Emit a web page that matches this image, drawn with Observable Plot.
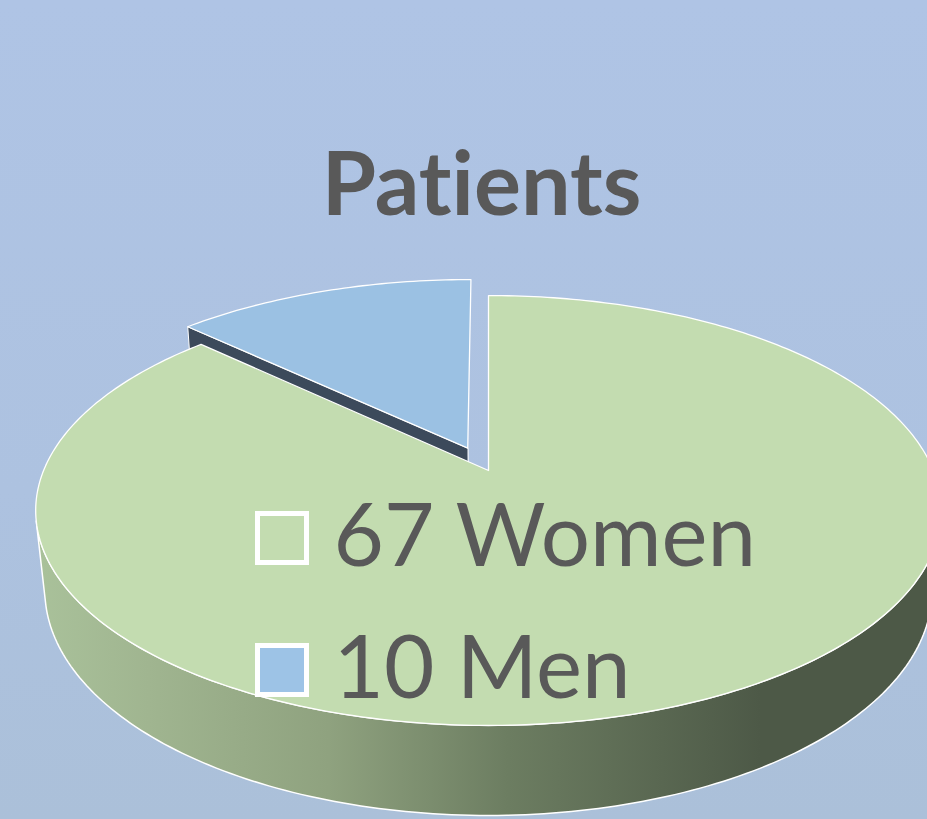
<!DOCTYPE html>
<html>
<head>
<meta charset="utf-8">
<script src="https://cdn.jsdelivr.net/npm/d3@7"></script>
<script src="https://cdn.jsdelivr.net/npm/@observablehq/plot@0.6"></script>
<style>
  html, body { margin: 0; padding: 0; background: #aec3e4; }
  #chart svg { display: block; background: linear-gradient(to bottom, #afc4e5 0%, #adc2e0 60%, #abc0d9 100%); }
  #chart svg text { font-variant-ligatures: none; font-feature-settings: "liga" 0, "clig" 0; }
</style>
</head>
<body>
<div id="chart"></div>
<script>
// ---- data ----
const categories = ["Women", "Men"];
const values = [67, 10];
const topColors = ["#c3dcb0", "#9bc1e3"];
const legendColors = ["#c3dcb0", "#9dc3e6"];
const explodes = [0, 0.12];
const title = "Patients";

// ---- layout / projection ----
const W = 927, H = 819;
const cx = 488, cy = 470, f = 2116, dist = 4.756;
const sinP = 0.4664, cosP = Math.sqrt(1 - sinP * sinP);
const thick = 0.2037;
function proj(X, Y, Z) {
  const depth = dist + Y * cosP - Z * sinP;
  const up = Y * sinP + Z * cosP;
  return [cx + f * X / depth, cy - f * up / depth];
}
const rad = a => a * Math.PI / 180;

const total = d3.sum(values);
let acc = 0;
const slices = categories.map((c, i) => {
  const a0 = acc * 360 / total;
  acc += values[i];
  const a1 = acc * 360 / total;
  const mid = rad((a0 + a1) / 2);
  const e = explodes[i];
  return {cat: c, value: values[i], a0, a1, ox: e * Math.sin(mid), oy: e * Math.cos(mid), fill: topColors[i]};
});

function rimPoint(s, a, z) {
  return proj(s.ox + Math.sin(rad(a)), s.oy + Math.cos(rad(a)), z);
}
function topFace(s) {
  const pts = [proj(s.ox, s.oy, 0)];
  const n = Math.max(2, Math.ceil(s.a1 - s.a0));
  for (let k = 0; k <= n; k++) pts.push(rimPoint(s, s.a0 + (s.a1 - s.a0) * k / n, 0));
  return pts;
}
function wall(s, lo, hi) {
  const a = Math.max(s.a0, lo), b = Math.min(s.a1, hi);
  if (b <= a) return null;
  const pts = [];
  const n = Math.ceil(b - a);
  for (let k = 0; k <= n; k++) pts.push(rimPoint(s, a + (b - a) * k / n, 0));
  for (let k = n; k >= 0; k--) pts.push(rimPoint(s, a + (b - a) * k / n, -thick));
  return pts;
}
function radialFace(s, a) {
  return [proj(s.ox, s.oy, 0), rimPoint(s, a, 0), rimPoint(s, a, -thick), proj(s.ox, s.oy, -thick)];
}
// visible wall range (outer normal faces camera)
const lim = Math.acos(-1 / (dist * cosP)) * 180 / Math.PI;
const toRows = pts => pts.map(([x, y]) => ({x, y}));

const women = slices[0], men = slices[1];
const marks = [];

// defs (gradient for the side wall)
marks.push(() => {
  const defs = d3.create("svg:defs");
  const g = defs.append("linearGradient").attr("id", "sideGrad")
    .attr("gradientUnits", "userSpaceOnUse").attr("x1", 40).attr("x2", 760).attr("y1", 0).attr("y2", 0);
  [[0, "#a9c19a"], [0.15, "#a0b590"], [0.4, "#8fa27f"], [0.65, "#6c7d61"], [1, "#4d5947"]].forEach(([o, c]) =>
    g.append("stop").attr("offset", o).attr("stop-color", c));
  return defs.node();
});

// men: radial face then top
marks.push(Plot.line(toRows(radialFace(men, men.a0)), {x: "x", y: "y", fill: "#3c4a5b", stroke: "#ffffff", strokeWidth: 1, curve: "linear-closed"}));
marks.push(Plot.line(toRows(topFace(men)), {x: "x", y: "y", fill: men.fill, stroke: "#ffffff", strokeWidth: 1.3, curve: "linear-closed"}));
// women: wall then top
marks.push(Plot.line(toRows(wall(women, lim - 0.3, 360 - lim + 0.3)), {x: "x", y: "y", fill: "url(#sideGrad)", stroke: "#ffffff", strokeWidth: 1.5, curve: "linear-closed"}));
marks.push(Plot.line(toRows(topFace(women)), {x: "x", y: "y", fill: women.fill, stroke: "#ffffff", strokeWidth: 1.3, curve: "linear-closed"}));

// title
marks.push(Plot.text([title], {x: () => 481, y: () => 214, text: d => d, fontSize: 88, fontWeight: "bold", fill: "#595959", textAnchor: "middle", lineAnchor: "bottom", fontFamily: "Lato"}));

// legend
const legend = categories.map((c, i) => ({label: `${values[i]} ${c}`, fill: legendColors[i], cy: 538 + i * 132}));
marks.push(Plot.rect(legend, {x1: () => 257.5, x2: () => 306.5, y1: d => d.cy - 24.5, y2: d => d.cy + 24.5, fill: "fill", stroke: "#ffffff", strokeWidth: 5}));
marks.push(Plot.text(legend, {x: () => 333, y: d => d.cy + 27, text: "label", fontSize: 87, fill: "#595959", textAnchor: "start", lineAnchor: "bottom", fontFamily: "Lato"}));

const chart = Plot.plot({
  width: W, height: H,
  margin: 0,
  x: {domain: [0, W], range: [0, W], axis: null},
  y: {domain: [0, H], range: [0, H], axis: null},
  color: {type: "identity"},
  style: {overflow: "hidden"},
  marks
});
document.getElementById("chart").appendChild(chart);
</script>
</body>
</html>
